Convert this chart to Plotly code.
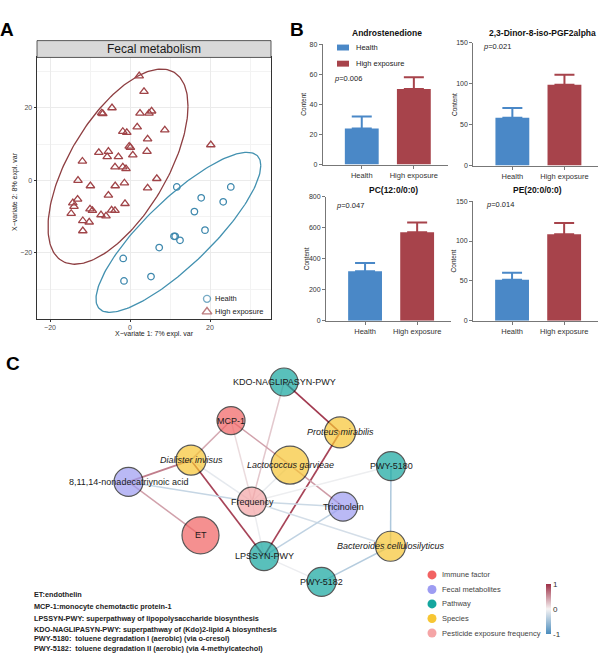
import numpy as np
import plotly.graph_objects as go
from plotly.colors import sample_colorscale

W, H = 600, 665
FONT = "Liberation Sans, Arial, sans-serif"

# ---------------- Panel A data ----------------
health_x = [11.7, 25.2, 17.8, 23.3, 16.1, 18.75, 11.0, 11.3, 12.5, 7.3, -1.7, 5.25, -1.5]
health_y = [-1.8, -1.8, -4.8, -5.9, -8.6, -13.7, -15.4, -15.4, -16.5, -18.5, -21.5, -26.5, -27.7]
high_x = [2.3, 3.5, -4.5, -7.1, -6.8, 2.5, 4.75, 5.4, 1.8, 8.7, -1.8, -0.8, 4.4, -0.2, 0.1, 0.7,
          4.25, -7.8, -5.4, -5.7, -2.9, -11.9, -3.75, -1.8, -1.0, 20.2, 6.7, -13.0, -9.9, -3.7,
          -1.4, 4.4, -5.4, -13.1, -14.3, -14.0, -14.7, -1.25, -10.0, -9.4, -4.6, -3.75, -7.25,
          -6.0, -11.8, -10.2, -11.8]
high_y = [28.8, 24.5, 20.0, 18.6, 18.4, 18.5, 18.5, 19.1, 14.7, 13.9, 13.5, 13.2, 11.4, 9.4, 9.1,
          7.0, 8.0, 7.7, 8.0, 6.5, 6.5, 5.3, 3.7, 3.7, 3.2, 9.8, 0.5, 0.0, -1.5, -1.5, -0.7, -2.1,
          -4.1, -5.2, -6.2, -7.2, -9.1, -6.4, -7.9, -8.3, -8.2, -8.3, -9.5, -9.8, -11.1, -11.5, -13.9]
# confidence ellipses: centre, half extents, correlation-like phase
ell_names = ["High exposure", "Health"]
ell_cx = [-3.0, 12.1]
ell_cy = [3.8, -14.3]
ell_w = [17.5, 20.6]
ell_h = [26.9, 22.05]
ell_rho = [0.62, 0.834]
ell_colors = ["#8e3f42", "#4391b0"]

# ---------------- Panel B data ----------------
metab_names = ["Androstenedione", "2,3-Dinor-8-iso-PGF2alpha", "PC(12:0/0:0)", "PE(20:0/0:0)"]
groups = ["Health", "High exposure"]
health_mean = [24.0, 58.5, 320.0, 51.5]
health_err = [8.0, 12.0, 53.0, 8.7]
high_mean = [50.3, 98.8, 572.0, 108.6]
high_err = [7.8, 12.1, 62.0, 14.0]
p_values = ["0.006", "0.021", "0.047", "0.014"]
y_max = [80, 150, 800, 150]
y_dtick = [20, 50, 200, 50]

# ---------------- Panel C data ----------------
node_names = ["KDO-NAGLIPASYN-PWY", "MCP-1", "Proteus mirabilis", "Dialister invisus",
              "Lactococcus garvieae", "PWY-5180", "8,11,14-nonadecatriynoic acid", "Frequency",
              "Tricinolein", "ET", "LPSSYN-PWY", "Bacteroides cellulosilyticus", "PWY-5182"]
node_types = ["Pathway", "Immune factor", "Species", "Species", "Species", "Pathway",
              "Fecal metabolites", "Pesticide exposure frequency", "Fecal metabolites",
              "Immune factor", "Pathway", "Species", "Pathway"]
node_x = [284, 231, 340, 191, 290, 391, 128.5, 252, 343, 200.5, 264, 390.5, 321.5]
node_y = [382, 421, 433, 461, 466, 467, 483, 503, 508, 537, 558, 548, 584]
node_size = [28, 28, 31, 30, 38, 29, 29, 29, 29, 37, 29, 30, 29]
edge_src = ["KDO-NAGLIPASYN-PWY", "KDO-NAGLIPASYN-PWY", "MCP-1", "MCP-1", "MCP-1",
            "Dialister invisus", "Dialister invisus", "Dialister invisus", "Proteus mirabilis",
            "Lactococcus garvieae", "Lactococcus garvieae", "8,11,14-nonadecatriynoic acid",
            "8,11,14-nonadecatriynoic acid", "Frequency", "Frequency", "Tricinolein", "PWY-5180",
            "Bacteroides cellulosilyticus", "PWY-5180", "LPSSYN-PWY", "LPSSYN-PWY"]
edge_dst = ["Proteus mirabilis", "Frequency", "Dialister invisus", "Lactococcus garvieae",
            "Frequency", "8,11,14-nonadecatriynoic acid", "LPSSYN-PWY", "Frequency",
            "LPSSYN-PWY", "Tricinolein", "Frequency", "ET", "Frequency", "Tricinolein",
            "Bacteroides cellulosilyticus", "LPSSYN-PWY", "Bacteroides cellulosilyticus",
            "PWY-5182", "Frequency", "Frequency", "PWY-5182"]
edge_r = [0.95, 0.22, 0.38, 0.42, 0.12, 0.6, 0.9, -0.1, 0.9, 0.45, -0.08, 0.42, -0.28,
          -0.25, -0.2, -0.32, -0.42, -0.38, -0.05, -0.06, -0.06]
type_names = ["Immune factor", "Fecal metabolites", "Pathway", "Species", "Pesticide exposure frequency"]
type_colors = ["#f26262", "#9d9cf2", "#14a69f", "#f7c633", "#f5a5a6"]
notes = ["ET:endothelin",
         "MCP-1:monocyte chemotactic protein-1",
         "LPSSYN-PWY: superpathway of lipopolysaccharide biosynthesis",
         "KDO-NAGLIPASYN-PWY: superpathway of (Kdo)2-lipid A biosynthesis",
         "PWY-5180:  toluene degradation I (aerobic) (via o-cresol)",
         "PWY-5182:  toluene degradation II (aerobic) (via 4-methylcatechol)"]

edge_scale = [[0.0, "#4a8cbd"], [0.5, "#f6f3f3"], [1.0, "#9e3047"]]
BLUE, RED = "#4a88c7", "#a7434b"


def py(px):
    return 1 - px / H


def pxx(px):
    return px / W


def note(text, x, y, size, color="#222", xanchor="center", angle=0, xref="paper", yref="paper"):
    return dict(text=text, x=x, y=y, xref=xref, yref=yref, showarrow=False, xanchor=xanchor,
                yanchor="middle", textangle=angle, borderpad=0,
                font=dict(size=size, color=color, family=FONT))


fig = go.Figure()
annotations = []
shapes = []

# ---------------- Panel A ----------------
t = np.linspace(0, 2 * np.pi, 200)
for i in range(2):
    phi = np.arccos(ell_rho[i])
    fig.add_trace(go.Scatter(x=ell_cx[i] + ell_w[i] * np.cos(t),
                             y=ell_cy[i] + ell_h[i] * np.cos(t - phi),
                             mode="lines", line=dict(color=ell_colors[i], width=1.3),
                             hoverinfo="skip", showlegend=False, xaxis="x", yaxis="y"))
fig.add_trace(go.Scatter(x=high_x, y=high_y, mode="markers", name="High exposure",
                         marker=dict(symbol="triangle-up-open", size=7.5, color="#a04448",
                                     line=dict(width=1.3)), showlegend=False, xaxis="x", yaxis="y"))
fig.add_trace(go.Scatter(x=health_x, y=health_y, mode="markers", name="Health",
                         marker=dict(symbol="circle-open", size=6.5, color="#3e88ad",
                                     line=dict(width=1.3)), showlegend=False, xaxis="x", yaxis="y"))

axA = dict(showgrid=True, gridcolor="#ebebeb", gridwidth=0.8, zeroline=False,
           ticks="outside", ticklen=2.5, tickcolor="#333", tickwidth=0.8,
           showline=True, linecolor="#333", linewidth=0.8, mirror=True,
           tickfont=dict(size=7, color="#4d4d4d", family=FONT))
fig.update_layout(
    xaxis=dict(axA, domain=[pxx(37), pxx(271)], range=[-23.25, 35.25], tickvals=[-20, 0, 20],
               minor=dict(tickvals=[-10, 10, 30], showgrid=True, gridcolor="#f3f3f3", gridwidth=0.5, ticks=""),
               anchor="y"),
    yaxis=dict(axA, domain=[py(318), py(54)], range=[-38.1, 33.9], tickvals=[-20, 0, 20],
               minor=dict(tickvals=[-30, -10, 10, 30], showgrid=True, gridcolor="#f3f3f3", gridwidth=0.5, ticks=""),
               anchor="x"),
)
shapes.append(dict(type="rect", xref="paper", yref="paper", x0=pxx(37), x1=pxx(271),
                   y0=py(54), y1=py(37), fillcolor="#d9d9d9", line=dict(color="#333", width=0.8)))
annotations.append(note("Fecal metabolism", pxx(154), py(45.5), 12, "#1a1a1a"))
annotations.append(note("X\u2212variate 1: 7% expl. var", pxx(154), py(334), 7, "#1a1a1a"))
annotations.append(note("X\u2212variate 2: 8% expl. var", pxx(15), py(190), 7, "#1a1a1a", angle=-90))

# ---------------- Panel B ----------------
bar_dom = [(322.7, 447.7, 40.7, 162.3), (473.3, 598.3, 39.3, 163.3),
           (326, 451, 195, 320), (473, 598, 199.3, 320)]
title_pos = [(387, 29), (542, 29), (393, 188), (537, 188)]
p_pos = [(333, 75), (482, 43), (335, 204), (485, 203)]
for i in range(4):
    k = i + 2
    xa, ya = f"x{k}", f"y{k}"
    for gi, (mean, err, col) in enumerate([(health_mean, health_err, BLUE), (high_mean, high_err, RED)]):
        fig.add_trace(go.Bar(x=[gi], y=[mean[i]], width=0.65, marker=dict(color=col, line=dict(width=0)),
                             error_y=dict(type="data", array=[err[i]], arrayminus=[0], symmetric=False,
                                          color=col, thickness=2, width=10),
                             showlegend=False, xaxis=xa, yaxis=ya, name=groups[gi]))
    x0, x1, yt, yb = bar_dom[i]
    fig.layout[f"xaxis{k}"] = dict(domain=[pxx(x0), pxx(x1)], range=[-0.75, 1.65], anchor=ya,
                                   tickvals=[0, 1], ticktext=groups, showline=True, linecolor="#777",
                                   linewidth=1, ticks="outside", ticklen=3, tickcolor="#777",
                                   showgrid=False, zeroline=False,
                                   tickfont=dict(size=7.5, color="#333", family=FONT))
    fig.layout[f"yaxis{k}"] = dict(domain=[py(yb), py(yt)], range=[0, y_max[i]], anchor=xa,
                                   dtick=y_dtick[i], showline=True, linecolor="#777", linewidth=1,
                                   ticks="outside", ticklen=3, tickcolor="#777", showgrid=False,
                                   zeroline=False, tickfont=dict(size=7, color="#333", family=FONT))
    annotations.append(note(f"<b>{metab_names[i]}</b>", pxx(title_pos[i][0]), py(title_pos[i][1]), 8.5, "#111"))
    annotations.append(note(f"<i>p</i>={p_values[i]}", pxx(p_pos[i][0]), py(p_pos[i][1]), 7.5, xanchor="left"))
    annotations.append(note("Content", pxx(x0 - 19.5), py((yt + yb) / 2), 6.5, angle=-90))

# legend panel B
for j, (col, lab) in enumerate([(BLUE, "Health"), (RED, "High exposure")]):
    yc = 44 + 16.3 * j
    shapes.append(dict(type="rect", xref="paper", yref="paper", x0=pxx(337), x1=pxx(349),
                       y0=py(yc + 3), y1=py(yc - 3), fillcolor=col, line=dict(width=0)))
    annotations.append(note(lab, pxx(355), py(yc), 7.5, xanchor="left"))

# ---------------- overlay pixel axis (panel C + legends) ----------------
OX, OY = "x7", "y7"
fig.layout["xaxis7"] = dict(domain=[0, 1], range=[0, W], visible=False, fixedrange=True, anchor=OY)
fig.layout["yaxis7"] = dict(domain=[0, 1], range=[H, 0], visible=False, fixedrange=True, anchor=OX)

# panel A legend glyphs
fig.add_trace(go.Scatter(x=[207, 207], y=[298, 311], mode="markers",
                         marker=dict(symbol=["circle-open", "triangle-up-open"], size=[7, 8.5],
                                     color=["#3e88ad", "#a04448"], line=dict(width=1.4)),
                         hoverinfo="skip", showlegend=False, xaxis=OX, yaxis=OY))
for lab, yy in [("Health", 298), ("High exposure", 311)]:
    annotations.append(note(lab, pxx(213.5), py(yy), 7.5, "#1a1a1a", xanchor="left"))

idx = {n: i for i, n in enumerate(node_names)}
for s, d, r in zip(edge_src, edge_dst, edge_r):
    col = sample_colorscale(edge_scale, [(r + 1) / 2])[0]
    a, b = idx[s], idx[d]
    fig.add_trace(go.Scatter(x=[node_x[a], node_x[b]], y=[node_y[a], node_y[b]], mode="lines",
                             line=dict(color=col, width=1.7 if abs(r) > 0.5 else 1.5),
                             hoverinfo="skip", showlegend=False, xaxis=OX, yaxis=OY))
# colorbar carrier (edge midpoints, invisible)
mid_x = [(node_x[idx[s]] + node_x[idx[d]]) / 2 for s, d in zip(edge_src, edge_dst)]
mid_y = [(node_y[idx[s]] + node_y[idx[d]]) / 2 for s, d in zip(edge_src, edge_dst)]
fig.add_trace(go.Scatter(x=mid_x, y=mid_y, mode="markers", text=[f"r={r}" for r in edge_r],
                         marker=dict(size=6, opacity=0, color=edge_r, colorscale=edge_scale, cmin=-1, cmax=1,
                                     showscale=True,
                                     colorbar=dict(x=pxx(545.5), xanchor="left", y=py(611.7), yanchor="middle",
                                                   len=50, lenmode="pixels", thickness=5, xpad=0, ypad=0,
                                                   outlinewidth=0, tickvals=[-1, 0, 1], ticktext=["-1", "0", "1"],
                                                   ticks="",
                                                   tickfont=dict(size=8, color="#333", family=FONT))),
                         hoverinfo="text", showlegend=False, xaxis=OX, yaxis=OY))

tcol = {n: c for n, c in zip(type_names, type_colors)}
fig.add_trace(go.Scatter(x=node_x, y=node_y, mode="markers",
                         marker=dict(size=node_size, color=[tcol[t_] for t_ in node_types],
                                     line=dict(color="#111", width=1.2)),
                         text=node_names, hoverinfo="text", showlegend=False, xaxis=OX, yaxis=OY))
for n, x_, y_, t_ in zip(node_names, node_x, node_y, node_types):
    lab = f"<i>{n}</i>" if t_ == "Species" else n
    annotations.append(note(lab, x_, y_, 9, "#1a1a1a", xref=OX, yref=OY))

# panel C legend
leg_y = [577, 591.7, 606.3, 621, 635.7]
fig.add_trace(go.Scatter(x=[432] * 5, y=leg_y, mode="markers",
                         marker=dict(size=9, color=type_colors, line=dict(width=0)),
                         hoverinfo="skip", showlegend=False, xaxis=OX, yaxis=OY))
for lab, yy in zip(type_names, leg_y):
    annotations.append(note(lab, pxx(440.5), py(yy), 7.5, "#444", xanchor="left"))

# notes
note_y = [596.5, 609, 621, 632.5, 641.5, 651]
for txt, yy in zip(notes, note_y):
    annotations.append(note(f"<b>{txt}</b>", pxx(33), py(yy), 7.3, xanchor="left"))

# panel letters
for L, (x_, y_) in zip("ABC", [(7, 25.5), (297, 25.5), (12.5, 363.5)]):
    annotations.append(note(f"<b>{L}</b>", pxx(x_), py(y_), 19, "#000"))

fig.update_layout(width=W, height=H, autosize=False, margin=dict(l=0, r=0, t=0, b=0),
                  paper_bgcolor="white", plot_bgcolor="rgba(0,0,0,0)", showlegend=False,
                  barmode="overlay", annotations=annotations, shapes=shapes,
                  font=dict(family=FONT), hovermode="closest")
fig.write_html("out.html", config={"displayModeBar": False},
               post_script="document.body.style.margin='0';document.body.style.overflow='hidden';")
